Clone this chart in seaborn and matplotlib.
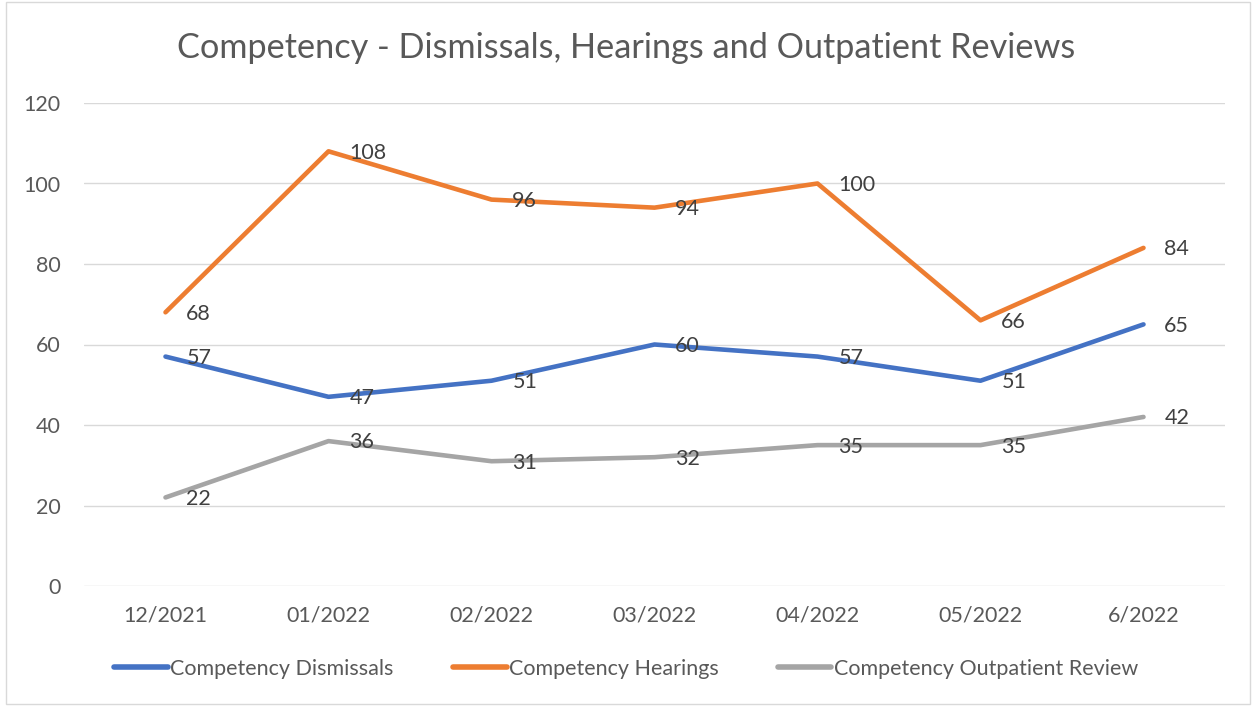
import matplotlib
matplotlib.use("Agg")
import matplotlib.pyplot as plt
import seaborn as sns
import pandas as pd
from matplotlib.patches import Rectangle

months = ["12/2021", "01/2022", "02/2022", "03/2022", "04/2022", "05/2022", "6/2022"]
dismissals = [57, 47, 51, 60, 57, 51, 65]
hearings = [68, 108, 96, 94, 100, 66, 84]
outpatient = [22, 36, 31, 32, 35, 35, 42]
series_names = ["Competency Dismissals", "Competency Hearings", "Competency Outpatient Review"]
colors = ["#4472C4", "#ED7D31", "#A5A5A5"]

df = pd.concat([
    pd.DataFrame({"Month": months, "Value": vals, "Series": name})
    for name, vals in zip(series_names, [dismissals, hearings, outpatient])
])

sns.set_theme(style="white")
plt.rcParams["font.family"] = ["Lato", "DejaVu Sans"]
txt = "#595959"

fig = plt.figure(figsize=(12.52, 7.06), dpi=100)
ax = fig.add_axes([84/1252, 120/706, (1225-84)/1252, (586-103)/706])

sns.lineplot(data=df, x="Month", y="Value", hue="Series", palette=colors,
             linewidth=3.3, sort=False, ax=ax, legend=True)

ax.set_ylim(0, 120)
ax.set_xlim(-0.5, len(months) - 0.5)
ax.set_yticks(range(0, 121, 20))
ax.grid(axis="y", color="#D9D9D9", linewidth=1)
ax.set_axisbelow(True)
for s in ax.spines.values():
    s.set_visible(False)
ax.tick_params(axis="both", length=0, labelsize=15.5, colors=txt)
ax.tick_params(axis="x", pad=14)
ax.tick_params(axis="y", pad=17)
ax.set_xlabel("")
ax.set_ylabel("")

for vals in [dismissals, hearings, outpatient]:
    for i, v in enumerate(vals):
        ax.annotate(str(v), (i, v), xytext=(15, -1), textcoords="offset points",
                    ha="left", va="center", fontsize=15.5, color="#404040")

fig.text(0.5, 1 - 48/706, "Competency - Dismissals, Hearings and Outpatient Reviews",
         ha="center", va="center", fontsize=24.7, color=txt)

h, l = ax.get_legend_handles_labels()
leg = ax.legend(h, l, loc="center", ncol=3, frameon=False, fontsize=15.5,
                labelcolor=txt, handlelength=2.5, handletextpad=0.1,
                columnspacing=2.75)
leg.set_bbox_to_anchor((0.5, 1 - 669/706), transform=fig.transFigure)
for line in leg.get_lines():
    line.set_linewidth(4)
    line.set_solid_capstyle("round")

fig.patches.append(Rectangle((6/1252, 2/706), 1 - 8/1252, 1 - 4/706, transform=fig.transFigure,
                             fill=False, edgecolor="#D9D9D9", linewidth=1))

fig.savefig("out.png", dpi=100)
